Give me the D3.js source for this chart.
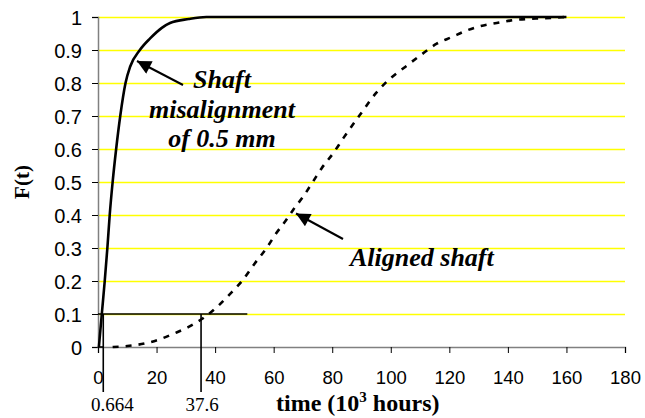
<!DOCTYPE html>
<html>
<head>
<meta charset="utf-8">
<script src="https://cdn.jsdelivr.net/npm/d3@7"></script>
<style>
  body { margin: 0; background: #fff; }
  svg { display: block; }
  .lbl { font-family: "Liberation Serif", "Times New Roman", serif; font-weight: bold; fill: #000; }
</style>
</head>
<body>
<div id="chart"></div>
<script>
var width = 645;
var height = 418;

// time in 10^3 hours, F(t)
var misalignedT = [0.3, 1.3, 2.3, 3.2, 4.0, 5.0, 6.2, 7.6, 9.4, 11, 14.3, 17.8, 21.8, 24.6, 31, 37, 160];
var misalignedF = [0, 0.1, 0.2, 0.3, 0.4, 0.5, 0.6, 0.7, 0.8, 0.85, 0.9, 0.935, 0.967, 0.982, 0.994, 1.0, 1.0];

var alignedT = [5, 10, 16.6, 20.6, 26.3, 30.8, 36, 40.5, 44.8, 49.1, 53.6, 57.6, 60.5, 63.9, 66.7, 70.1, 73.5,
                76.4, 80.4, 83.8, 90, 95, 100, 104.8, 110, 115.7, 120.8, 125.9, 130.5, 136.2, 140.7, 146.4, 151, 156, 160];
var alignedF = [0, 0.003, 0.012, 0.022, 0.042, 0.06, 0.088, 0.12, 0.158, 0.199, 0.254, 0.30, 0.34, 0.38, 0.416, 0.456, 0.502,
                0.542, 0.588, 0.633, 0.71, 0.77, 0.815, 0.848, 0.883, 0.919, 0.939, 0.959, 0.972, 0.982, 0.989, 0.994, 0.996, 0.998, 1.0];

var xTicks = [0, 20, 40, 60, 80, 100, 120, 140, 160, 180];
var yTicks = [0, 0.1, 0.2, 0.3, 0.4, 0.5, 0.6, 0.7, 0.8, 0.9, 1];
var yTickLabels = ["0", "0.1", "0.2", "0.3", "0.4", "0.5", "0.6", "0.7", "0.8", "0.9", "1"];

// B10 read-off lines
var markerLevel = 0.1;
var markerEnd = 51;
var markerT = [1.8, 35.2];
var markerLabels = ["0.664", "37.6"];

var x = d3.scaleLinear().domain([0, 180]).range([98, 625]);
var y = d3.scaleLinear().domain([0, 1]).range([347, 17]);

var svg = d3.select("#chart")
    .append("svg")
    .attr("width", width)
    .attr("height", height);

// grid
svg.append("g")
    .selectAll("line")
    .data(yTicks.slice(1))
    .enter()
    .append("line")
    .attr("x1", x(0))
    .attr("x2", x(180))
    .attr("y1", function(d) { return Math.round(y(d)) + 0.5; })
    .attr("y2", function(d) { return Math.round(y(d)) + 0.5; })
    .attr("stroke", "#ffff00")
    .attr("stroke-width", 1.3);

// axes
var yAxis = svg.append("g")
    .attr("transform", "translate(" + x(0) + ",0)")
    .call(d3.axisLeft(y).tickValues(yTicks).tickSize(6).tickPadding(10)
        .tickFormat(function(d, i) { return yTickLabels[i]; }));

var xAxis = svg.append("g")
    .attr("transform", "translate(0," + y(0) + ")")
    .call(d3.axisBottom(x).tickValues(xTicks).tickSize(6).tickPadding(18));

[xAxis, yAxis].forEach(function(a) {
    a.attr("font-family", "Arial, 'Liberation Sans', sans-serif");
    a.select(".domain").attr("stroke", "#808080").attr("stroke-width", 1.5);
    a.selectAll(".tick line").attr("stroke", "#000").attr("stroke-width", 1);
    a.selectAll(".tick text").attr("fill", "#000");
});
yAxis.attr("font-size", 20);
yAxis.selectAll(".tick text").attr("dy", "0.36em");
xAxis.attr("font-size", 18.5);

// marker lines
var markers = svg.append("g").attr("stroke", "#000").attr("stroke-width", 1.6);
markers.append("line")
    .attr("x1", x(0)).attr("x2", x(markerEnd))
    .attr("y1", y(markerLevel)).attr("y2", y(markerLevel));
markers.append("line")
    .attr("x1", x(0)).attr("x2", x(markerT[0]))
    .attr("y1", y(0)).attr("y2", y(0));
markers.selectAll("line.v")
    .data(markerT)
    .enter()
    .append("line")
    .attr("class", "v")
    .attr("x1", function(d) { return x(d); })
    .attr("x2", function(d) { return x(d); })
    .attr("y1", y(markerLevel))
    .attr("y2", y(0) + 45);

svg.selectAll("text.mk")
    .data(markerLabels)
    .enter()
    .append("text")
    .attr("class", "mk")
    .attr("x", function(d, i) { return x(markerT[i]) + (i === 0 ? 9 : 1); })
    .attr("y", 411)
    .attr("text-anchor", "middle")
    .attr("font-family", "'Liberation Serif', 'Times New Roman', serif")
    .attr("font-size", 19)
    .text(function(d) { return d; });

// curves
var line = d3.line()
    .x(function(d) { return x(d[0]); })
    .y(function(d) { return y(d[1]); })
    .curve(d3.curveMonotoneX);

svg.append("path")
    .datum(d3.zip(alignedT, alignedF))
    .attr("d", line)
    .attr("fill", "none")
    .attr("stroke", "#000")
    .attr("stroke-width", 2.6)
    .attr("stroke-dasharray", "6,7");

svg.append("path")
    .datum(d3.zip(misalignedT, misalignedF))
    .attr("d", line)
    .attr("fill", "none")
    .attr("stroke", "#000")
    .attr("stroke-width", 2.6);

// annotations
svg.append("defs").append("marker")
    .attr("id", "head")
    .attr("viewBox", "0 0 10 10")
    .attr("refX", 10).attr("refY", 5)
    .attr("markerWidth", 8).attr("markerHeight", 7)
    .attr("markerUnits", "strokeWidth")
    .attr("orient", "auto")
    .append("path")
    .attr("d", "M0,0L10,5L0,10Z")
    .attr("fill", "#000");

svg.append("line")
    .attr("x1", 183).attr("y1", 85)
    .attr("x2", 137).attr("y2", 61)
    .attr("stroke", "#000").attr("stroke-width", 2)
    .attr("marker-end", "url(#head)");

svg.append("line")
    .attr("x1", 343).attr("y1", 239)
    .attr("x2", 296).attr("y2", 213.5)
    .attr("stroke", "#000").attr("stroke-width", 2)
    .attr("marker-end", "url(#head)");

var note = svg.append("text")
    .attr("class", "lbl")
    .attr("font-style", "italic")
    .attr("font-size", 26)
    .attr("text-anchor", "middle");
note.append("tspan").attr("x", 222).attr("y", 88).text("Shaft");
note.append("tspan").attr("x", 222).attr("y", 118).text("misalignment");
note.append("tspan").attr("x", 222).attr("y", 147).text("of 0.5 mm");

svg.append("text")
    .attr("class", "lbl")
    .attr("font-style", "italic")
    .attr("font-size", 26)
    .attr("x", 350).attr("y", 266)
    .text("Aligned shaft");

// axis titles
svg.append("text")
    .attr("class", "lbl")
    .attr("font-size", 21)
    .attr("text-anchor", "middle")
    .attr("transform", "translate(29,182) rotate(-90)")
    .text("F(t)");

var xt = svg.append("text")
    .attr("class", "lbl")
    .attr("font-size", 24)
    .attr("x", 276).attr("y", 411);
xt.append("tspan").text("time (10");
xt.append("tspan").attr("font-size", 15).attr("dy", -9).text("3");
xt.append("tspan").attr("dy", 9).text(" hours)");
</script>
</body>
</html>
